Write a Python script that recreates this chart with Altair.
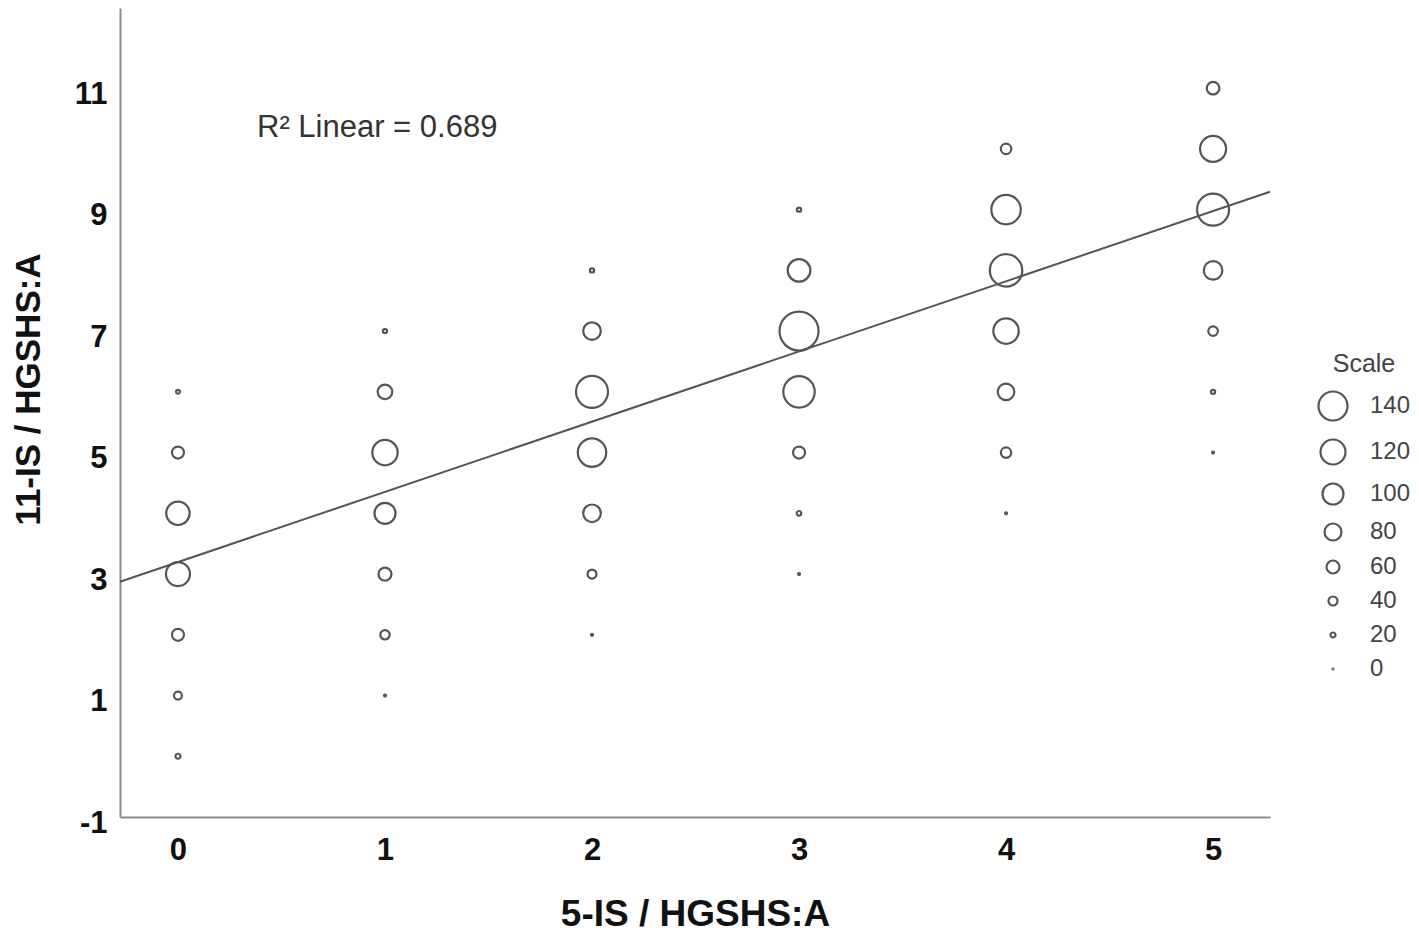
import altair as alt
import pandas as pd

# ---- data ----
x_score = [0] * 7 + [1] * 7 + [2] * 7 + [3] * 7 + [4] * 7 + [5] * 7
y_score = [0, 1, 2, 3, 4, 5, 6,
           1, 2, 3, 4, 5, 6, 7,
           2, 3, 4, 5, 6, 7, 8,
           3, 4, 5, 6, 7, 8, 9,
           4, 5, 6, 7, 8, 9, 10,
           5, 6, 7, 8, 9, 10, 11]
counts = [20, 35, 55, 115, 112, 55, 14,
          5, 42, 60, 100, 122, 68, 16,
          5, 40, 83, 137, 155, 83, 16,
          5, 18, 55, 152, 190, 108, 16,
          5, 47, 78, 122, 157, 142, 47,
          5, 16, 43, 88, 155, 125, 58]

legend_values = [140, 120, 100, 80, 60, 40, 20, 0]
x_ticks = [0, 1, 2, 3, 4, 5]
y_ticks = [-1, 1, 3, 5, 7, 9, 11]

fit_intercept = 3.197
fit_slope = 1.156
r2_label = "R\u00b2 Linear = 0.689"

X_DOMAIN = [-0.28, 5.275]
Y_DOMAIN = [-1, 12.32]
SIZE_OFFSET = 5

FONT = "Liberation Sans"
INK = "#555555"

df = pd.DataFrame({"x": x_score, "y": y_score, "count": counts})
df_line = pd.DataFrame({"x": X_DOMAIN,
                        "y": [fit_intercept + fit_slope * v for v in X_DOMAIN]})
df_text = pd.DataFrame({"t": [r2_label]})

x_scale = alt.Scale(domain=X_DOMAIN, nice=False, zero=False)
y_scale = alt.Scale(domain=Y_DOMAIN, nice=False, zero=False)

x_axis = alt.Axis(values=x_ticks, title="5-IS / HGSHS:A", labelFontSize=31,
                  labelFontWeight="bold", labelBaseline="alphabetic", labelPadding=42,
                  titleFontSize=37, titleFontWeight="bold", titleY=108,
                  titleBaseline="alphabetic", labelExpr="'' + datum.value")
y_axis = alt.Axis(values=y_ticks, title="11-IS / HGSHS:A", labelFontSize=31,
                  labelFontWeight="bold", labelBaseline="middle", labelPadding=13,
                  labelOffset=6, titleFontSize=35, titleFontWeight="bold",
                  titleX=-81, titleY=381, titleBaseline="alphabetic", titleAngle=-90,
                  labelExpr="'' + datum.value")

points = alt.Chart(df).transform_calculate(
    w=f"datum.count + {SIZE_OFFSET}"
).mark_point(filled=False, color=INK, strokeWidth=2.2, opacity=1, shape="circle").encode(
    x=alt.X("x:Q", scale=x_scale, axis=x_axis),
    y=alt.Y("y:Q", scale=y_scale, axis=y_axis),
    size=alt.Size("w:Q",
                  scale=alt.Scale(type="pow", exponent=2, domain=[0, 200], range=[0, 1600]),
                  legend=alt.Legend(
                      title="Scale",
                      values=[v + SIZE_OFFSET for v in legend_values],
                      labelExpr=f"datum.value - {SIZE_OFFSET}",
                      orient="none", legendX=1197, legendY=344,
                      titleAnchor="middle", titleFontSize=25, titleFontWeight="normal",
                      titleColor="#444444", titleFont=FONT, titlePadding=13,
                      labelFontSize=24, labelColor="#444444", labelFont=FONT,
                      labelOffset=21, rowPadding=10,
                      symbolStrokeWidth=2.2, symbolStrokeColor=INK,
                      symbolFillColor="transparent", symbolType="circle")),
)

line = alt.Chart(df_line).mark_line(color=INK, strokeWidth=2).encode(
    x=alt.X("x:Q", scale=x_scale),
    y=alt.Y("y:Q", scale=y_scale),
)

text = alt.Chart(df_text).mark_text(
    align="left", baseline="alphabetic", fontSize=31, font=FONT,
    color="#333333", x=137, y=129
).encode(text="t:N")

chart = alt.layer(points, line, text).properties(
    width=1150, height=809,
    padding={"left": 112, "top": 0, "right": 141, "bottom": 117},
    autosize="none",
).configure_view(stroke=None).configure_axis(
    grid=False, ticks=False, tickSize=0, domainColor="#8c8c8c", domainWidth=2,
    labelColor="#111111", titleColor="#111111", labelFont=FONT, titleFont=FONT,
)

chart.save("out.html", embed_options={"renderer": "svg", "actions": False})
